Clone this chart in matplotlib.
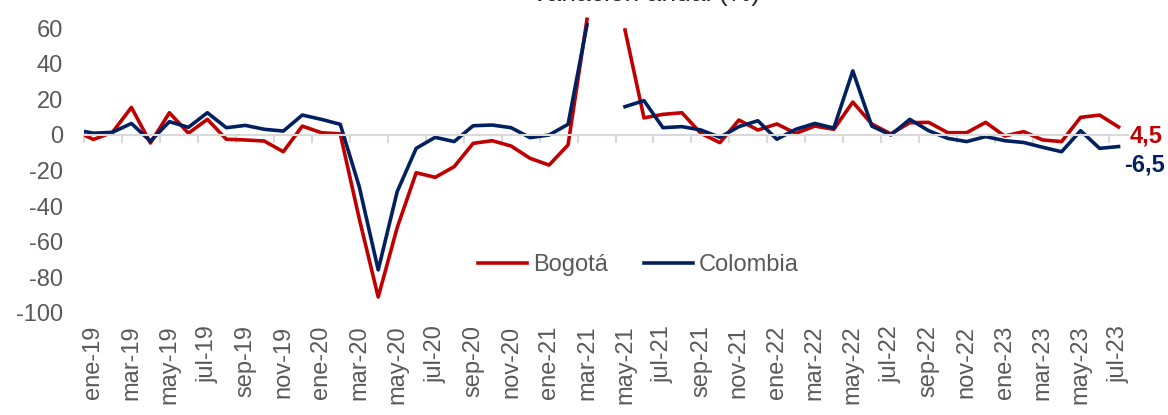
import matplotlib.pyplot as plt
import numpy as np

plt.rcParams['font.family'] = ['Liberation Sans', 'DejaVu Sans']
plt.rcParams['axes.unicode_minus'] = False

# monthly index, dic-18 .. jul-23 (abr-21 missing)
months = ['dic-18',
          'ene-19', 'feb-19', 'mar-19', 'abr-19', 'may-19', 'jun-19', 'jul-19', 'ago-19', 'sep-19', 'oct-19', 'nov-19', 'dic-19',
          'ene-20', 'feb-20', 'mar-20', 'abr-20', 'may-20', 'jun-20', 'jul-20', 'ago-20', 'sep-20', 'oct-20', 'nov-20', 'dic-20',
          'ene-21', 'feb-21', 'mar-21', 'abr-21', 'may-21', 'jun-21', 'jul-21', 'ago-21', 'sep-21', 'oct-21', 'nov-21', 'dic-21',
          'ene-22', 'feb-22', 'mar-22', 'abr-22', 'may-22', 'jun-22', 'jul-22', 'ago-22', 'sep-22', 'oct-22', 'nov-22', 'dic-22',
          'ene-23', 'feb-23', 'mar-23', 'abr-23', 'may-23', 'jun-23', 'jul-23']

bogota = [2.5,
          -2.5, 1.5, 15.5, -4.5, 12.5, 1.0, 8.8, -2.4, -2.8, -3.4, -9.4, 5.0,
          1.3, 0.6, -47.0, -91.0, -52.0, -21.2, -23.8, -17.8, -4.7, -3.2, -6.2, -13.1,
          -16.9, -5.6, 65.0, np.nan, 59.0, 9.6, 11.6, 12.5, 0.9, -4.3, 8.4, 2.8,
          6.2, 0.9, 5.0, 3.2, 18.5, 6.2, 0.6, 6.9, 7.1, 1.3, 1.3, 7.1,
          -0.6, 1.9, -2.8, -3.7, 9.9, 11.2, 4.5]

colombia = [3.0,
            1.0, 1.5, 6.5, -3.5, 7.5, 4.3, 12.5, 4.1, 5.4, 3.2, 2.2, 11.2,
            8.8, 6.0, -29.0, -75.8, -31.8, -7.5, -1.3, -3.7, 5.2, 5.6, 4.1, -1.5,
            0.0, 6.0, 62.0, np.nan, 15.9, 19.3, 4.1, 4.7, 2.8, -1.3, 4.7, 8.0,
            -2.4, 3.2, 6.5, 3.9, 36.0, 5.0, 0.0, 8.8, 2.4, -1.9, -3.7, -0.9,
            -3.2, -4.2, -6.9, -9.4, 2.4, -7.5, -6.5]

x = np.arange(len(months)) - 1  # ene-19 -> 0
label_pos = x[1::2]
label_txt = months[1::2]

red = '#C00000'
navy = '#002060'
grey_txt = '#595959'
fs = 17

fig = plt.figure(figsize=(11.68, 4.15), dpi=100)
ax = fig.add_axes([0.0719, 0.2458, 0.8939, 0.7506])

ax.plot(x, bogota, color=red, lw=2.6, label='Bogotá')
ax.plot(x, colombia, color=navy, lw=2.6, label='Colombia')

ax.set_xlim(-0.5, 54.5)
ax.set_ylim(-100, 75)
ax.set_yticks(np.arange(-100, 61, 20))
ax.tick_params(axis='y', length=0, labelsize=fs, labelcolor=grey_txt, pad=15)

for s in ['top', 'right', 'left']:
    ax.spines[s].set_visible(False)
ax.spines['bottom'].set_position(('data', 0))
ax.spines['bottom'].set_color('#D9D9D9')
ax.spines['bottom'].set_linewidth(1.5)
ax.set_xticks(np.arange(-0.5, 54, 2))
ax.tick_params(axis='x', length=6, width=1.5, color='#D9D9D9', labelbottom=False)

sec = ax.secondary_xaxis('bottom')
sec.set_xticks(label_pos)
sec.set_xticklabels(label_txt, rotation=90)
sec.tick_params(length=0, labelsize=fs, labelcolor=grey_txt, pad=9)
sec.spines['bottom'].set_visible(False)

ax.annotate('4,5', xy=(x[-1], bogota[-1]), xytext=(11, -9), textcoords='offset pixels',
            color=red, fontsize=fs, fontweight='bold', va='center', ha='left', annotation_clip=False)
ax.annotate('-6,5', xy=(x[-1], colombia[-1]), xytext=(6, -18), textcoords='offset pixels',
            color=navy, fontsize=fs, fontweight='bold', va='center', ha='left', annotation_clip=False)

ax.legend(loc='center', bbox_to_anchor=(0.531, 0.154), ncol=2, frameon=False,
          fontsize=fs, handlelength=2.1, columnspacing=1.5, handletextpad=0.25,
          labelcolor=grey_txt)

fig.text(0.553, 0.986, 'Variación anual (%)', ha='center', va='bottom',
         fontsize=19, color='#262626')

fig.savefig('out.png', dpi=100)
